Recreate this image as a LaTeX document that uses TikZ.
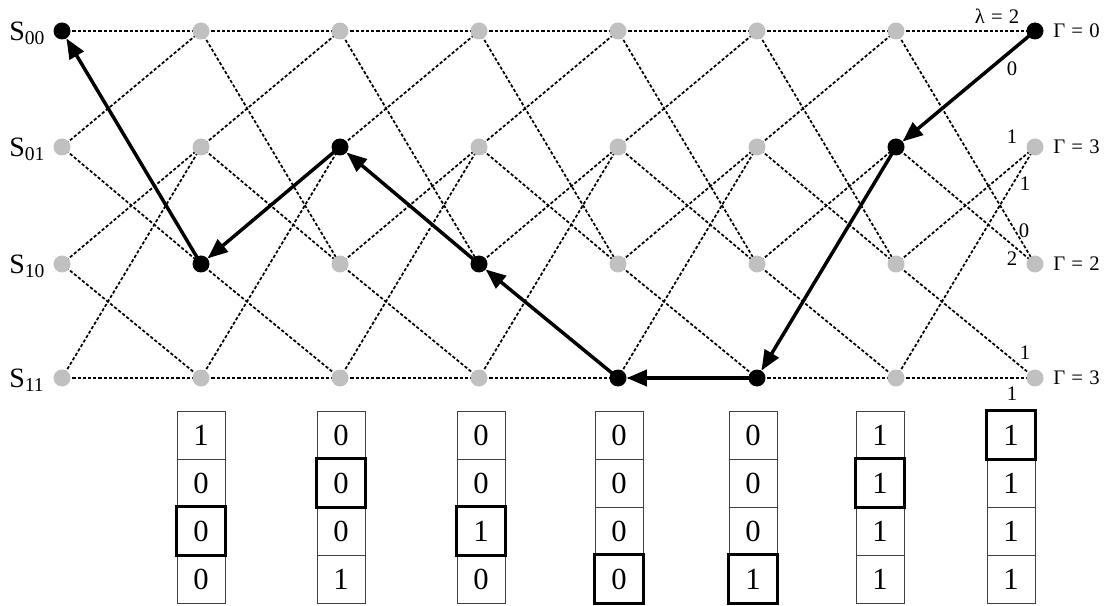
\documentclass[tikz,border=0pt]{standalone}
\usepackage{fontspec}
\setmainfont{Liberation Serif}
\usetikzlibrary{arrows.meta,backgrounds}
\definecolor{lgray}{RGB}{192,192,192}
\newcommand{\eqs}{\hspace{0.3em}=\hspace{0.3em}}
\begin{document}
\begin{tikzpicture}[x=0.75pt,y=-0.75pt,
  dot/.style={circle,fill=lgray,minimum size=12.75pt,inner sep=0pt},
  blk/.style={circle,fill=black,minimum size=12.75pt,inner sep=0pt},
  tedge/.style={line width=1.3pt,dash pattern=on 2.4pt off 1.5pt},
  arr/.style={line width=2.6pt,-{Triangle[length=15pt,width=12pt]}},
  slab/.style={font=\fontsize{21}{24}\selectfont,anchor=west,inner sep=0pt},
  small/.style={font=\fontsize{15.5}{18}\selectfont,inner sep=0pt},
  cell/.style={draw=black!75,line width=0.75pt,minimum width=36pt,minimum height=36pt,inner sep=0pt,font=\fontsize{23}{25}\selectfont},
  hl/.style={line width=2.6pt}]
\useasboundingbox (0,0) rectangle (1108,606);
% trellis nodes
\foreach \c/\b in {0/0,1/2,2/1,3/2,4/3,5/3,6/1,7/0}{
  \foreach \r/\y in {0/31,1/147,2/264,3/378}{
    \ifnum\r=\b \def\st{blk}\else\def\st{dot}\fi
    \node[\st] (n\c\r) at ({62+139*\c},\y) {};
  }
}
% trellis branches
\begin{pgfonlayer}{background}
\foreach \c in {0,...,6}{
  \pgfmathtruncatemacro\d{\c+1}
  \draw[tedge] (n\c0.center) -- (n\d0.center);
  \draw[tedge] (n\c0.center) -- (n\d2.center);
  \draw[tedge] (n\c1.center) -- (n\d0.center);
  \draw[tedge] (n\c1.center) -- (n\d2.center);
  \draw[tedge] (n\c2.center) -- (n\d1.center);
  \draw[tedge] (n\c2.center) -- (n\d3.center);
  \draw[tedge] (n\c3.center) -- (n\d1.center);
  \draw[tedge] (n\c3.center) -- (n\d3.center);
}
\end{pgfonlayer}
% survivor path
\draw[arr] (n70.center) -- (n61);
\draw[arr] (n61.center) -- (n53);
\draw[arr] (n53.center) -- (n43);
\draw[arr] (n43.center) -- (n32);
\draw[arr] (n32.center) -- (n21);
\draw[arr] (n21.center) -- (n12);
\draw[arr] (n12.center) -- (n00);
% state labels
\node[slab] (s00) at (9,33) {S\textsubscript{00}};
\node[slab] (s01) at (9,149) {S\textsubscript{01}};
\node[slab] (s10) at (9,266) {S\textsubscript{10}};
\node[slab] (s11) at (9,380) {S\textsubscript{11}};
% metrics
\node[small] (lam) at (997,16) {λ\eqs2};
\node[small,anchor=west] (g0) at (1053,31) {Γ\eqs0};
\node[small,anchor=west] (g1) at (1053,147) {Γ\eqs3};
\node[small,anchor=west] (g2) at (1053,264) {Γ\eqs2};
\node[small,anchor=west] (g3) at (1053,378) {Γ\eqs3};
\node[small] (m1) at (1012,69) {0};
\node[small] (m2) at (1012,137) {1};
\node[small] (m3) at (1025,184) {1};
\node[small] (m4) at (1024,231) {0};
\node[small] (m5) at (1012,259) {2};
\node[small] (m6) at (1025,353) {1};
\node[small] (m7) at (1012,394) {1};
% memory columns
\foreach \c/\x/\va/\vb/\vc/\vd/\h in {1/201/1/0/0/0/2,2/341/0/0/0/1/1,3/481/0/0/1/0/2,4/619/0/0/0/0/3,5/753/0/0/0/1/3,6/880/1/1/1/1/1,7/1011/1/1/1/1/0}{
  \node[cell] (c\c0) at (\x,435) {\va};
  \node[cell] (c\c1) at (\x,483) {\vb};
  \node[cell] (c\c2) at (\x,531) {\vc};
  \node[cell] (c\c3) at (\x,579) {\vd};
  \draw[hl] (c\c\h.south west) rectangle (c\c\h.north east);
}
\end{tikzpicture}
\end{document}
